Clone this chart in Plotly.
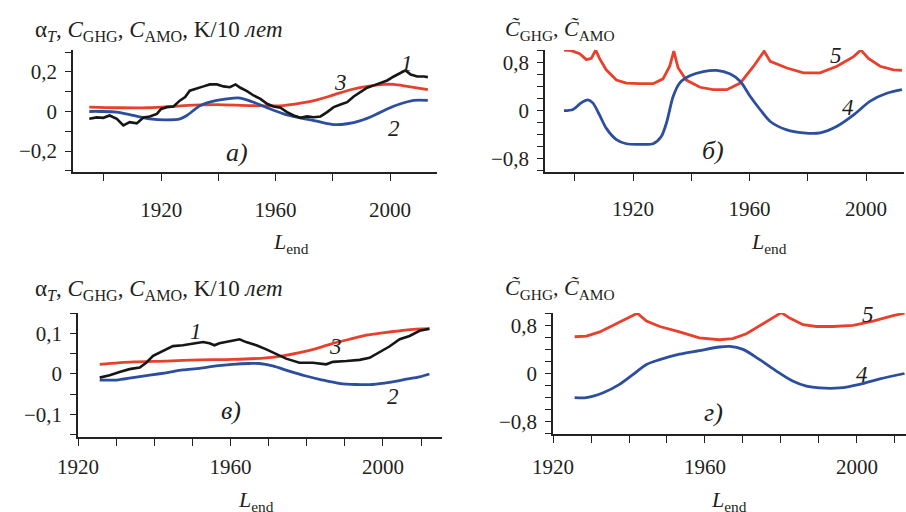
import plotly.graph_objects as go

W, H = 906, 512

# ---------------- Panel а (top-left) ----------------
a_years_1 = [1894.9, 1897.5, 1899.8, 1902.0, 1904.5, 1906.8, 1909.0, 1911.5, 1913.8, 1916.0,
             1918.5, 1920.0, 1922.0, 1924.3, 1926.6, 1928.4, 1930.0, 1932.5, 1934.8, 1937.0,
             1939.5, 1941.8, 1944.0, 1946.0, 1947.7, 1950.0, 1952.3, 1954.7, 1957.0, 1959.3,
             1961.7, 1964.0, 1966.3, 1968.7, 1971.0, 1973.3, 1975.7, 1978.0, 1980.3, 1982.7,
             1985.0, 1987.3, 1989.7, 1992.0, 1994.3, 1996.6, 1999.0, 2001.3, 2003.7, 2005.4,
             2007.2, 2009.5, 2011.8, 2013.2]
a_vals_1 = [-0.037, -0.030, -0.032, -0.020, -0.037, -0.070, -0.054, -0.060, -0.030, -0.025,
            -0.012, 0.013, 0.022, 0.025, 0.056, 0.073, 0.105, 0.115, 0.127, 0.137,
            0.137, 0.127, 0.123, 0.137, 0.120, 0.103, 0.081, 0.064, 0.039, 0.025,
            0.019, -0.003, -0.020, -0.032, -0.025, -0.029, -0.025, -0.003, 0.022, 0.035,
            0.047, 0.076, 0.098, 0.120, 0.132, 0.144, 0.157, 0.177, 0.193, 0.208,
            0.187, 0.177, 0.177, 0.174]

a_years_2 = [1894.9, 1898.6, 1904.5, 1910.3, 1916.0, 1922.0, 1926.6, 1929.0, 1933.7, 1939.5,
             1945.3, 1947.7, 1952.3, 1957.0, 1962.8, 1968.7, 1974.5, 1980.3, 1985.0, 1989.7,
             1994.3, 1999.0, 2003.7, 2008.3, 2013.2]
a_vals_2 = [0.000, 0.000, -0.003, -0.020, -0.037, -0.042, -0.037, -0.020, 0.030, 0.056,
            0.068, 0.068, 0.047, 0.019, -0.012, -0.032, -0.049, -0.066, -0.062, -0.046,
            -0.020, 0.013, 0.039, 0.056, 0.056]

a_years_3 = [1894.9, 1904.5, 1916.0, 1927.8, 1939.5, 1951.2, 1962.8, 1968.7, 1974.5, 1980.3,
             1986.2, 1992.0, 1997.8, 2001.3, 2006.0, 2013.2]
a_vals_3 = [0.022, 0.019, 0.019, 0.030, 0.035, 0.030, 0.030, 0.042, 0.059, 0.084,
            0.110, 0.127, 0.137, 0.137, 0.127, 0.110]

# ---------------- Panel б (top-right) ----------------
b_years_5 = [1896.3, 1898.8, 1901.7, 1904.0, 1905.7, 1907.2, 1908.5, 1910.8, 1914.3, 1917.7,
             1922.3, 1926.9, 1930.3, 1932.6, 1934.0, 1935.5, 1938.3, 1943.0, 1947.5, 1952.2,
             1956.8, 1961.4, 1965.0, 1967.1, 1972.8, 1978.5, 1984.2, 1990.0, 1995.7, 1998.2,
             2000.8, 2004.8, 2009.4, 2012.3]
b_vals_5 = [1.01, 1.00, 0.95, 0.85, 0.87, 1.01, 0.87, 0.68, 0.51, 0.46,
            0.45, 0.45, 0.53, 0.74, 0.99, 0.71, 0.51, 0.39, 0.35, 0.35,
            0.46, 0.74, 0.99, 0.82, 0.71, 0.63, 0.63, 0.74, 0.90, 1.01,
            0.87, 0.74, 0.68, 0.67]

b_years_4 = [1896.3, 1899.4, 1902.2, 1904.5, 1906.2, 1908.5, 1910.8, 1914.3, 1917.7, 1922.3,
             1926.9, 1929.7, 1931.5, 1933.8, 1936.0, 1939.5, 1944.1, 1948.7, 1953.4, 1956.8,
             1960.2, 1963.6, 1967.1, 1972.8, 1978.5, 1984.2, 1990.0, 1995.7, 2001.4, 2007.1,
             2012.3]
b_vals_4 = [0.00, 0.02, 0.13, 0.18, 0.13, -0.07, -0.29, -0.48, -0.55, -0.56,
            -0.55, -0.43, -0.20, 0.24, 0.46, 0.58, 0.65, 0.67, 0.61, 0.49,
            0.24, 0.02, -0.18, -0.32, -0.37, -0.37, -0.26, -0.07, 0.16, 0.29,
            0.35]

# ---------------- Panel в (bottom-left) ----------------
c_years_1 = [1925.7, 1928.3, 1930.9, 1933.5, 1936.2, 1937.9, 1939.7, 1942.3, 1944.9, 1947.5,
             1950.2, 1952.8, 1954.5, 1955.8, 1957.1, 1958.9, 1960.6, 1962.4, 1964.1, 1966.8,
             1969.4, 1972.0, 1974.6, 1978.1, 1981.6, 1985.1, 1986.9, 1990.4, 1993.9, 1996.5,
             1999.1, 2001.7, 2004.4, 2007.0, 2009.6, 2012.2]
c_vals_1 = [-0.009, -0.003, 0.005, 0.012, 0.016, 0.028, 0.045, 0.057, 0.069, 0.071,
            0.076, 0.079, 0.076, 0.071, 0.076, 0.079, 0.082, 0.086, 0.079, 0.071,
            0.061, 0.049, 0.038, 0.028, 0.028, 0.024, 0.030, 0.032, 0.035, 0.040,
            0.053, 0.068, 0.086, 0.094, 0.107, 0.112]

c_years_3 = [1925.7, 1934.4, 1943.1, 1951.9, 1960.6, 1969.4, 1973.7, 1978.1, 1982.5, 1986.9,
             1991.3, 1995.6, 2000.0, 2004.4, 2008.7, 2012.2]
c_vals_3 = [0.024, 0.030, 0.032, 0.035, 0.036, 0.040, 0.045, 0.053, 0.063, 0.076,
            0.086, 0.096, 0.102, 0.107, 0.111, 0.112]

c_years_2 = [1925.7, 1930.1, 1934.4, 1938.8, 1943.1, 1947.5, 1951.9, 1956.2, 1960.6, 1965.0,
             1967.6, 1971.1, 1975.4, 1979.8, 1984.2, 1988.5, 1992.9, 1997.3, 2001.7, 2006.1,
             2009.6, 2012.2]
c_vals_2 = [-0.015, -0.015, -0.009, -0.003, 0.003, 0.010, 0.014, 0.020, 0.024, 0.026,
            0.026, 0.020, 0.007, -0.005, -0.015, -0.023, -0.026, -0.026, -0.021, -0.013,
            -0.007, 0.000]

# ---------------- Panel г (bottom-right) ----------------
d_years_5 = [1925.7, 1928.8, 1932.3, 1935.8, 1939.3, 1942.2, 1944.6, 1948.1, 1953.3, 1958.5,
             1963.8, 1967.3, 1970.9, 1974.4, 1977.9, 1980.1, 1982.3, 1985.8, 1989.3, 1993.7,
             1999.0, 2004.2, 2009.5, 2012.5]
d_vals_5 = [0.61, 0.62, 0.69, 0.80, 0.91, 1.00, 0.87, 0.78, 0.69, 0.59,
            0.56, 0.58, 0.66, 0.79, 0.92, 1.01, 0.92, 0.81, 0.78, 0.78,
            0.80, 0.87, 0.96, 1.00]

d_years_4 = [1925.7, 1928.8, 1933.2, 1937.5, 1941.0, 1944.6, 1948.1, 1953.3, 1958.5, 1963.8,
             1966.5, 1970.0, 1974.4, 1978.8, 1983.2, 1986.7, 1990.2, 1995.4, 2000.7, 2006.0,
             2012.5]
d_vals_4 = [-0.40, -0.40, -0.32, -0.18, -0.02, 0.15, 0.23, 0.32, 0.38, 0.44,
            0.45, 0.40, 0.23, 0.04, -0.13, -0.21, -0.24, -0.24, -0.18, -0.09,
            0.00]

# tick values / labels
a_xticks = [1900, 1920, 1940, 1960, 1980, 2000]
a_xlabels = ["", "1920", "", "1960", "", "2000"]
a_yticks = [-0.3, -0.2, -0.1, 0, 0.1, 0.2, 0.3]
a_ylabels = ["", "\u22120,2", "", "0", "", "0,2", ""]
b_yticks = [-1.0, -0.8, -0.6, -0.4, -0.2, 0, 0.2, 0.4, 0.6, 0.8, 1.0]
b_ylabels = ["", "\u22120,8", "", "", "", "0", "", "", "", "0,8", ""]
c_xticks = [1920, 1930, 1940, 1950, 1960, 1970, 1980, 1990, 2000, 2010]
c_xlabels = ["1920", "", "", "", "1960", "", "", "", "2000", ""]
c_yticks = [-0.15, -0.1, -0.05, 0, 0.05, 0.1, 0.15]
c_ylabels = ["", "\u22120,1", "", "0", "", "0,1", ""]

RED = "#e8402c"
BLUE = "#2c4e9e"
BLACK = "#161616"
FONT = "Liberation Serif"
TXT = "#231f20"

fig = go.Figure()

def add(x, y, color, ax, shape="linear", width=2.8):
    fig.add_trace(go.Scatter(x=x, y=y, mode="lines", xaxis="x" + ax, yaxis="y" + ax,
                             line=dict(color=color, width=width, shape=shape, smoothing=0.8),
                             showlegend=False, hoverinfo="skip"))

add(a_years_3, a_vals_3, RED, "", "spline")
add(a_years_2, a_vals_2, BLUE, "", "spline")
add(a_years_1, a_vals_1, BLACK, "", "linear", 2.6)

add(b_years_5, b_vals_5, RED, "2", "linear")
add(b_years_4, b_vals_4, BLUE, "2", "spline")

add(c_years_3, c_vals_3, RED, "3", "spline")
add(c_years_2, c_vals_2, BLUE, "3", "spline")
add(c_years_1, c_vals_1, BLACK, "3", "linear", 2.6)

add(d_years_5, d_vals_5, RED, "4", "linear")
add(d_years_4, d_vals_4, BLUE, "4", "spline")


def xdom(l, r):
    return [l / W, r / W]


def ydom(t, b):
    return [1 - b / H, 1 - t / H]


def xax(dom, rng, tv, tt, anchor, standoff):
    return dict(domain=dom, range=rng, anchor=anchor, showline=True, linecolor="#222",
                linewidth=1.5, ticks="outside", ticklen=7, tickwidth=1.4, tickcolor="#222",
                tickvals=tv, ticktext=tt, showgrid=False, zeroline=False, automargin=False,
                tickfont=dict(family=FONT, size=21, color=TXT), ticklabelstandoff=standoff)


def yax(dom, rng, tv, tt, anchor):
    return dict(domain=dom, range=rng, anchor=anchor, showline=True, linecolor="#222",
                linewidth=1.5, ticks="outside", ticklen=6, tickwidth=1.4, tickcolor="#222",
                tickvals=tv, ticktext=tt, showgrid=False, zeroline=False, automargin=False,
                tickfont=dict(family=FONT, size=21, color=TXT), ticklabelstandoff=4)


b_xlabels = a_xlabels
d_yticks, d_ylabels = b_yticks, b_ylabels

fig.update_layout(
    width=W, height=H, margin=dict(l=0, r=0, t=0, b=0, pad=0, autoexpand=False),
    paper_bgcolor="white", plot_bgcolor="white",
    xaxis=xax(xdom(73, 437), [1889.2, 2016.4], a_xticks, a_xlabels, "y", 11),
    yaxis=yax(ydom(50, 172), [-0.306, 0.311], a_yticks, a_ylabels, "x"),
    xaxis2=xax(xdom(545, 904), [1889.8, 2013.0], a_xticks, b_xlabels, "y2", 10),
    yaxis2=yax(ydom(50, 172), [-1.02, 1.01], b_yticks, b_ylabels, "x2"),
    xaxis3=xax(xdom(78, 442), [1920, 2015.5], c_xticks, c_xlabels, "y3", 3),
    yaxis3=yax(ydom(313, 437), [-0.156, 0.151], c_yticks, c_ylabels, "x3"),
    xaxis4=xax(xdom(553, 906), [1920, 2012.9], c_xticks, c_xlabels, "y4", 6),
    yaxis4=yax(ydom(313, 434), [-1.004, 1.004], d_yticks, d_ylabels, "x4"),
)


def ann(x, y, text, size=18, xanchor="center"):
    fig.add_annotation(x=x / W, y=1 - y / H, xref="paper", yref="paper", text=text,
                       showarrow=False, xanchor=xanchor, yanchor="middle",
                       font=dict(family=FONT, size=size, color=TXT))


title_lr = "\u03b1<sub><i>T</i></sub>, <i>C</i><sub>GHG</sub>, <i>C</i><sub>AMO</sub>, K/10 <i>\u043b\u0435\u0442</i>"
title_rt = "<i>C\u0303</i><sub>GHG</sub>, <i>C\u0303</i><sub>AMO</sub>"
lend = "<i>L</i><sub>end</sub>"

ann(33, 31, title_lr, 23, "left")
ann(33, 290, title_lr, 23, "left")
ann(503, 30, title_rt, 22, "left")
ann(503, 289, title_rt, 22, "left")

ann(291, 243, lend, 22)
ann(769, 243, lend, 22)
ann(256, 501, lend, 22)
ann(729, 501, lend, 22)

# panel letters
ann(237, 152, "<i>\u0430)</i>", 26)
ann(713, 150, "<i>\u0431)</i>", 26)
ann(231, 410, "<i>\u0432)</i>", 26)
ann(713, 412, "<i>\u0433)</i>", 26)

# curve numbers
ann(407, 63, "<i>1</i>", 23)
ann(340, 82, "<i>3</i>", 23)
ann(394, 128, "<i>2</i>", 23)
ann(836, 55, "<i>5</i>", 23)
ann(848, 107, "<i>4</i>", 23)
ann(196, 331, "<i>1</i>", 23)
ann(335, 346, "<i>3</i>", 23)
ann(393, 396, "<i>2</i>", 23)
ann(868, 314, "<i>5</i>", 23)
ann(862, 374, "<i>4</i>", 23)

fig.write_html("out.html", config={"displayModeBar": False},
               post_script="document.body.style.margin='0';document.body.style.overflow='hidden';")
